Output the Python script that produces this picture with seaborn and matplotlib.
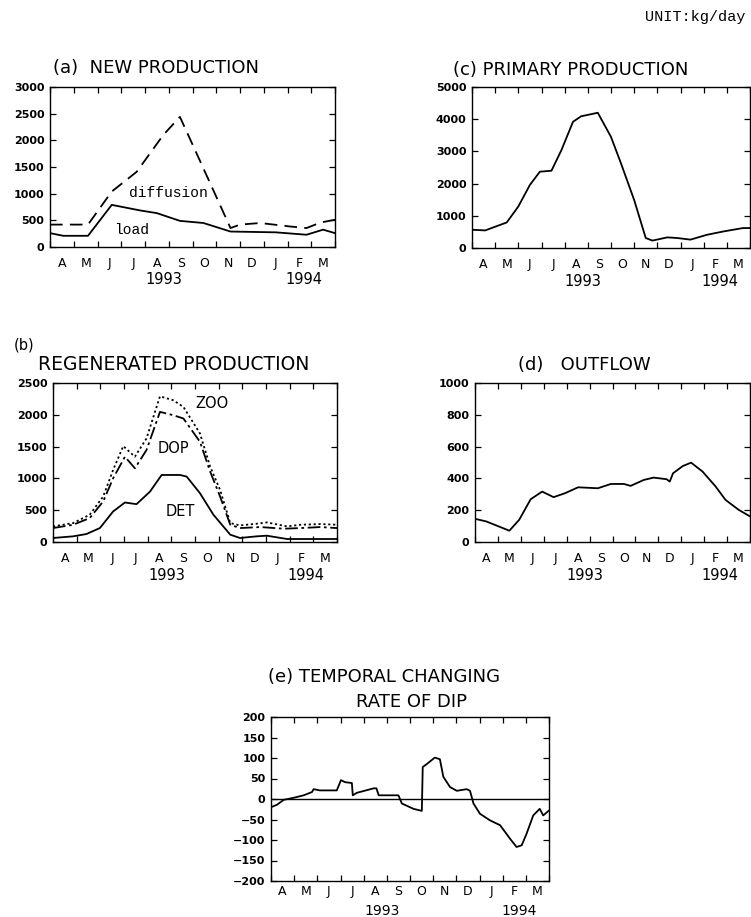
import numpy as np
import pandas as pd
import matplotlib
matplotlib.use("Agg")
import matplotlib.pyplot as plt
import seaborn as sns

# month positions: 0 = 1 Apr 1993, 12 = 1 Apr 1994
month_labels = ["A", "M", "J", "J", "A", "S", "O", "N", "D", "J", "F", "M"]

# (a) new production
a_diff_x = [0, 1.6, 2.6, 3.65, 4.77, 5.47, 6.3, 7.6, 8.0, 8.85, 10.1, 10.8, 11.4, 12]
a_diff_y = [420, 420, 1040, 1410, 2100, 2440, 1630, 355, 420, 450, 385, 355, 460, 510]
a_load_x = [0, 0.56, 1.6, 2.6, 3.8, 4.5, 5.47, 6.46, 7.6, 9.5, 10.8, 11.5, 12]
a_load_y = [260, 210, 210, 790, 685, 635, 490, 450, 290, 275, 230, 325, 260]

# (b) regenerated production
b_det_x = [0, 0.85, 1.41, 1.98, 2.54, 3.04, 3.53, 4.1, 4.59, 5.37, 5.65, 6.21, 6.78, 7.49, 7.9, 8.6, 9.04, 9.89, 10.45, 12]
b_det_y = [63, 89, 125, 219, 480, 621, 595, 793, 1054, 1054, 1028, 767, 428, 115, 63, 89, 99, 47, 47, 47]
b_dop_x = [0, 0.85, 1.55, 2.12, 2.54, 3.04, 3.46, 3.95, 4.52, 5.08, 5.51, 6.21, 6.64, 7.06, 7.49, 7.9, 8.76, 9.75, 10.45, 11.3, 12]
b_dop_y = [219, 271, 376, 637, 1002, 1341, 1159, 1446, 2046, 1994, 1942, 1576, 1107, 715, 271, 219, 235, 209, 219, 235, 219]
b_zoo_x = [0, 0.85, 1.55, 2.12, 2.54, 2.97, 3.46, 3.95, 4.52, 5.08, 5.51, 6.21, 6.64, 7.06, 7.49, 7.9, 8.6, 9.04, 9.89, 10.45, 11.3, 12]
b_zoo_y = [245, 297, 428, 715, 1133, 1508, 1341, 1628, 2291, 2229, 2124, 1707, 1185, 819, 297, 261, 287, 308, 245, 271, 282, 271]

# (c) primary production
c_x = [0, 0.57, 1.5, 2.0, 2.5, 2.93, 3.43, 3.86, 4.36, 4.71, 5.43, 6.0, 6.43, 7.0, 7.5, 7.79, 8.43, 8.86, 9.43, 10.14, 10.86, 11.7, 12]
c_y = [567, 546, 794, 1290, 1960, 2370, 2400, 3040, 3920, 4090, 4200, 3450, 2630, 1490, 310, 230, 330, 310, 260, 410, 515, 620, 620]

# (d) outflow
d_x = [0, 0.5, 1.5, 1.93, 2.43, 2.93, 3.43, 3.93, 4.5, 5.36, 5.93, 6.5, 6.79, 7.36, 7.79, 8.36, 8.5, 8.64, 9.07, 9.43, 9.93, 10.5, 10.93, 11.5, 12]
d_y = [146, 129, 71, 140, 269, 317, 282, 307, 344, 338, 365, 365, 353, 390, 405, 395, 380, 432, 478, 499, 443, 349, 265, 203, 161]

# (e) temporal changing rate of DIP
e_x = [0, 0.26, 0.55, 0.98, 1.41, 1.77, 1.84, 2.1, 2.84, 3.02, 3.2, 3.49, 3.53, 3.7, 4.43, 4.55, 4.65, 5.0, 5.5,
       5.65, 6.15, 6.51, 6.55, 6.72, 7.07, 7.29, 7.44, 7.73, 8.02, 8.45, 8.59, 8.74, 9.02, 9.45, 9.89, 10.32,
       10.6, 10.82, 11.03, 11.32, 11.6, 11.75, 12]
e_y = [-20, -14, -2, 3, 9, 17, 24, 21, 21, 46, 41, 39, 9, 15, 26, 26, 9, 9, 9,
       -11, -24, -29, 78, 85, 101, 97, 54, 29, 20, 24, 20, -11, -36, -52, -64, -97,
       -117, -113, -85, -40, -24, -40, -28]

W, H = 751, 917
sns.set_style("ticks")
plt.rcParams["font.family"] = ["DejaVu Sans"]
plt.rcParams.update({"text.color": "black", "xtick.color": "black", "ytick.color": "black",
                     "axes.labelcolor": "black"})

fig = plt.figure(figsize=(W / 100, H / 100), dpi=100)


def make_ax(x0, y0, x1, y1):
    return fig.add_axes([x0 / W, 1 - y1 / H, (x1 - x0) / W, (y1 - y0) / H])


def style_month_axis(ax, ylim, ystep, month_pad=7, year_off=-33, year_size=10.5):
    ax.set_xlim(0, 12)
    ax.set_ylim(*ylim)
    ax.set_xticks(np.arange(0, 13))
    ax.set_xticklabels([])
    ax.set_xticks(np.arange(0.5, 12), minor=True)
    ax.set_xticklabels(month_labels, minor=True, fontsize=9)
    ax.tick_params(axis="x", which="major", direction="in", length=4, top=True, width=0.9)
    ax.tick_params(axis="x", which="minor", length=0, pad=month_pad)
    ax.set_yticks(np.arange(ylim[0], ylim[1] + 1, ystep))
    ax.tick_params(axis="y", direction="in", length=4, right=True, labelsize=8, width=0.9, pad=4)
    for lab in ax.get_yticklabels():
        lab.set_fontweight("bold")
    for s in ax.spines.values():
        s.set_linewidth(1.0)
        s.set_color("black")
    ax.set_xlabel("")
    ax.set_ylabel("")
    for xpos, yr in [(4.8, "1993"), (10.7, "1994")]:
        ax.annotate(yr, xy=(xpos, 0), xycoords=("data", "axes fraction"), xytext=(0, year_off),
                    textcoords="offset pixels", ha="center", va="center", fontsize=year_size)


def draw(ax, x, y, ls="-", dashes=None):
    df = pd.DataFrame({"x": x, "y": y})
    line = sns.lineplot(data=df, x="x", y="y", ax=ax, color="black", lw=1.3,
                        estimator=None, sort=False, linestyle=ls)
    if dashes is not None:
        ax.lines[-1].set_dashes(dashes)
    return line


# (a)
ax = make_ax(50, 87, 335, 247)
draw(ax, a_diff_x, a_diff_y, ls="--", dashes=(7, 4))
draw(ax, a_load_x, a_load_y)
style_month_axis(ax, (0, 3000), 500)
ax.text(5.0, 1010, "diffusion", family="Liberation Mono", fontsize=10.5, ha="center", va="center")
ax.text(3.45, 310, "load", family="Liberation Mono", fontsize=10.5, ha="center", va="center")
fig.text(53 / W, 1 - 68 / H, "(a)  NEW PRODUCTION", fontsize=13, ha="left", va="center")

# (c)
ax = make_ax(472, 87, 750, 248)
draw(ax, c_x, c_y)
style_month_axis(ax, (0, 5000), 1000)
fig.text(453 / W, 1 - 70 / H, "(c) PRIMARY PRODUCTION", fontsize=13, ha="left", va="center")

# (b)
ax = make_ax(53, 383, 337, 542)
draw(ax, b_zoo_x, b_zoo_y, ls=":", dashes=(1.2, 1.5))
draw(ax, b_dop_x, b_dop_y, ls="-.", dashes=(7, 2, 1.5, 2))
draw(ax, b_det_x, b_det_y)
style_month_axis(ax, (0, 2500), 500)
ax.text(6.7, 2180, "ZOO", fontsize=10.5, ha="center", va="center")
ax.text(5.1, 1470, "DOP", fontsize=10.5, ha="center", va="center")
ax.text(5.4, 480, "DET", fontsize=10.5, ha="center", va="center")
fig.text(14 / W, 1 - 345 / H, "(b)", fontsize=10.5, ha="left", va="center")
fig.text(38 / W, 1 - 364 / H, "REGENERATED PRODUCTION", fontsize=13.5, ha="left", va="center")

# (d)
ax = make_ax(475, 383, 750, 542)
draw(ax, d_x, d_y)
style_month_axis(ax, (0, 1000), 200)
fig.text(518 / W, 1 - 365 / H, "(d)   OUTFLOW", fontsize=13, ha="left", va="center")

# (e)
ax = make_ax(271, 717, 549, 881)
ax.axhline(0, color="black", lw=1.0)
draw(ax, e_x, e_y)
style_month_axis(ax, (-200, 200), 50, month_pad=3, year_off=-30, year_size=10)
fig.text(384 / W, 1 - 677 / H, "(e) TEMPORAL CHANGING", fontsize=13, ha="center", va="center")
fig.text(411 / W, 1 - 702 / H, "RATE OF DIP", fontsize=13, ha="center", va="center")

fig.text(745 / W, 1 - 17 / H, "UNIT:kg/day", family="Liberation Mono", fontsize=11, ha="right", va="center")

fig.savefig("out.png", dpi=100)
